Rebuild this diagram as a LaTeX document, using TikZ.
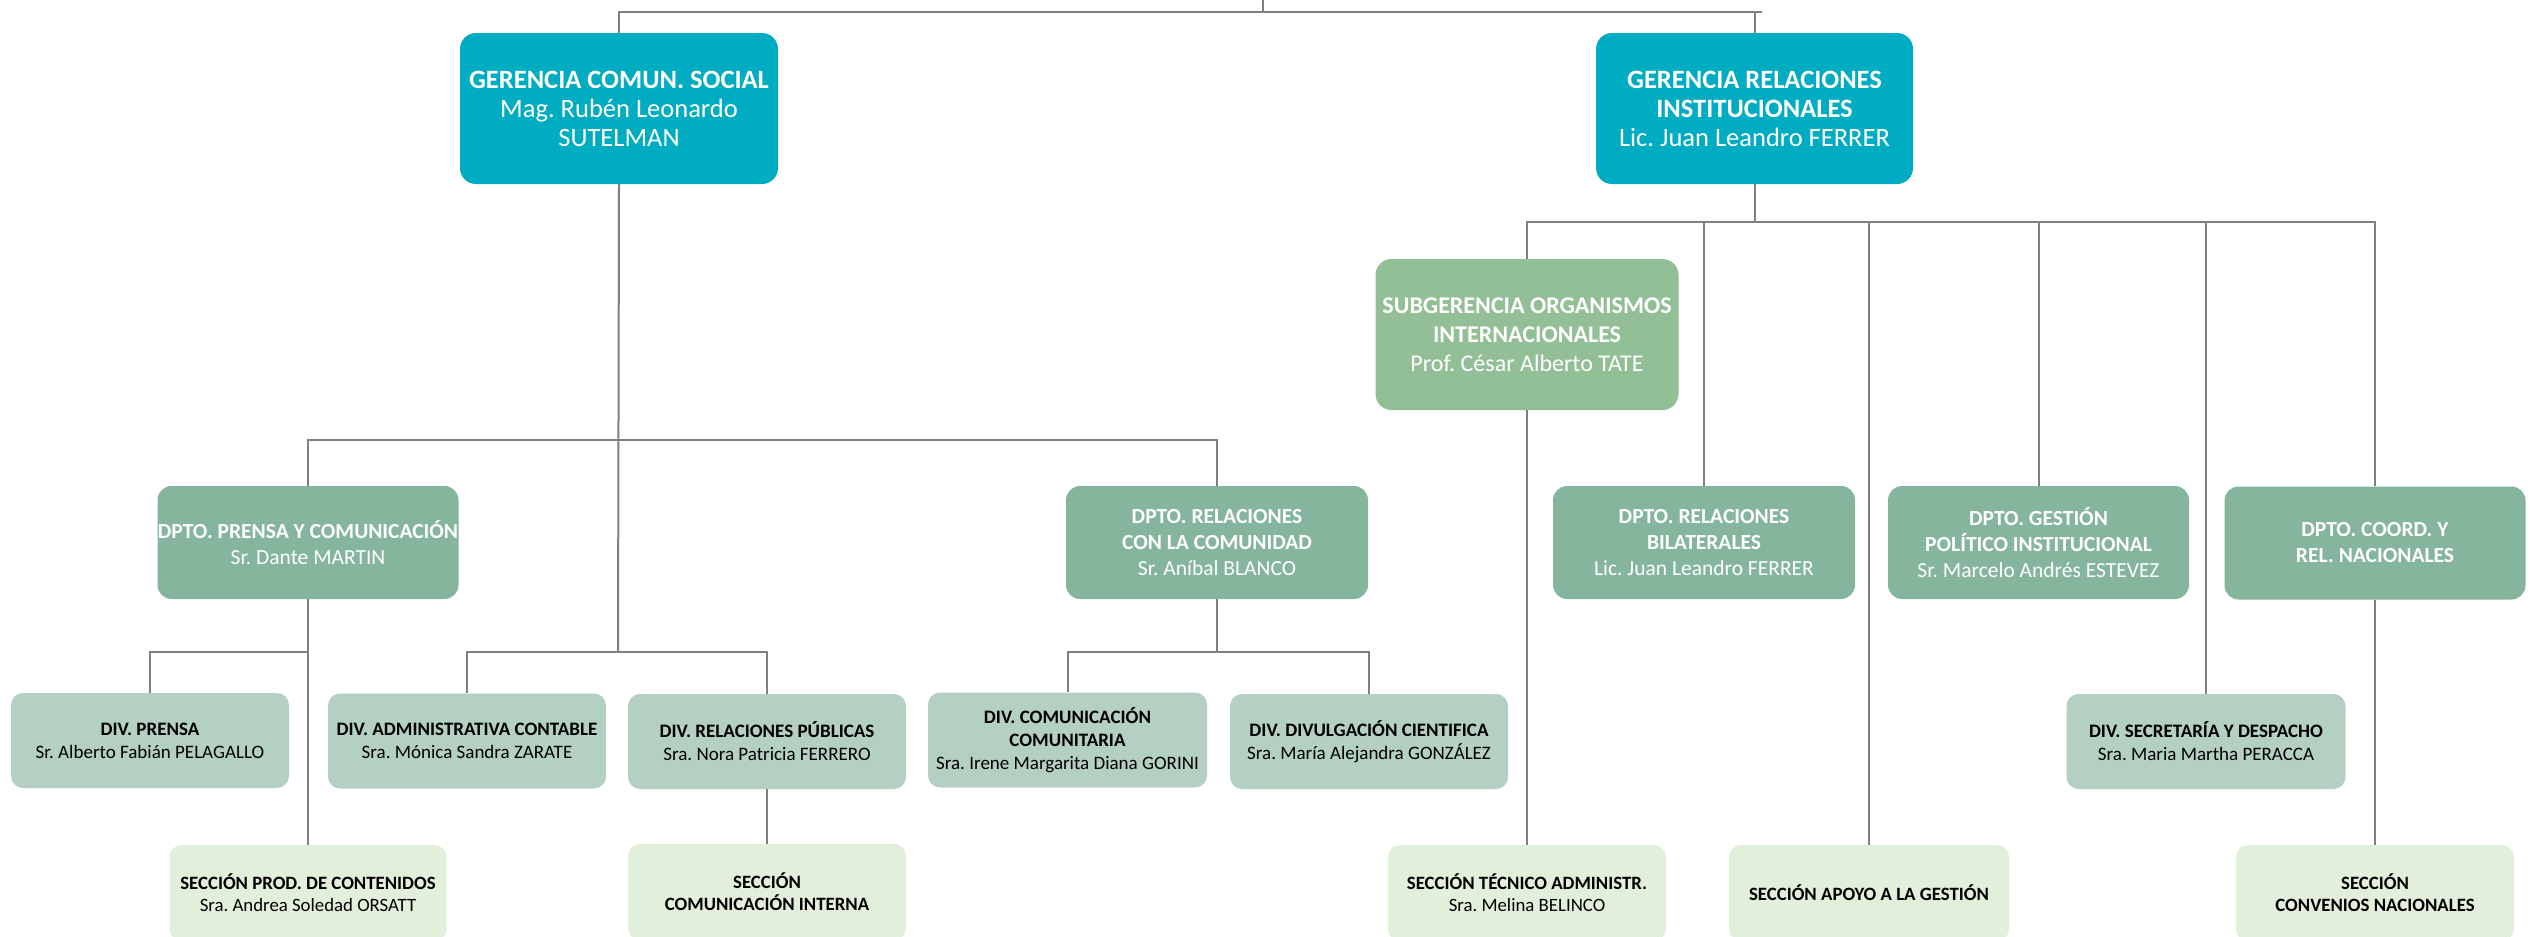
\documentclass[tikz,border=0pt]{standalone}
\usepackage{fontspec}
\setmainfont{Carlito}
\frenchspacing
\definecolor{teal}{RGB}{0,172,193}
\definecolor{subg}{RGB}{147,191,150}
\definecolor{dpto}{RGB}{133,182,157}
\definecolor{divc}{RGB}{179,208,194}
\definecolor{secc}{RGB}{226,239,218}
\definecolor{lin}{RGB}{128,128,128}
\tikzset{
  box/.style={rounded corners=16pt, inner sep=0pt, align=center, draw=none},
  topbox/.style={box, fill=teal, text=white, minimum height=151pt, font=\fontsize{26.5}{29}\selectfont},
  subbox/.style={box, fill=subg, text=white, minimum height=151pt, font=\fontsize{24}{29}\selectfont},
  dptobox/.style={box, rounded corners=14pt, fill=dpto, text=white, minimum height=113pt, font=\fontsize{21.5}{26}\selectfont},
  divbox/.style={box, rounded corners=12pt, fill=divc, text=black, minimum height=95pt, minimum width=278pt, font=\fontsize{19}{23}\selectfont},
  seccbox/.style={box, rounded corners=12pt, fill=secc, text=black, minimum height=96pt, minimum width=278pt, font=\fontsize{18.8}{22}\selectfont},
  conn/.style={draw=lin, line width=2pt}
}
\begin{document}
\begin{tikzpicture}[x=1pt,y=-1pt]
\useasboundingbox (0,0) rectangle (2533,937);
% top level
\node[topbox, minimum width=318pt] (gcs) at (619,108.5) {\textbf{GERENCIA COMUN. SOCIAL}\\Mag. Rubén Leonardo\\SUTELMAN};
\node[topbox, minimum width=317pt] (gri) at (1754.5,108.5) {\textbf{GERENCIA RELACIONES}\\\textbf{INSTITUCIONALES}\\Lic. Juan Leandro FERRER};
\node[subbox, minimum width=303pt] (subger) at (1527,334.5) {\textbf{SUBGERENCIA ORGANISMOS}\\\textbf{INTERNACIONALES}\\Prof. César Alberto TATE};
% departments
\node[dptobox, minimum width=301pt] (prensa) at (308,542.5) {\textbf{DPTO. PRENSA Y COMUNICACIÓN}\\Sr. Dante MARTIN};
\node[dptobox, minimum width=302pt] (relcom) at (1217,542.5) {\textbf{DPTO. RELACIONES}\\\textbf{CON LA COMUNIDAD}\\Sr. Aníbal BLANCO};
\node[dptobox, minimum width=302pt] (bilat) at (1704,542.5) {\textbf{DPTO. RELACIONES}\\\textbf{BILATERALES}\\Lic. Juan Leandro FERRER};
\node[dptobox, minimum width=301pt] (gestion) at (2038.5,542.5) {\textbf{DPTO. GESTIÓN}\\\textbf{POLÍTICO INSTITUCIONAL}\\Sr. Marcelo Andrés ESTEVEZ};
\node[dptobox, minimum width=301pt] (coord) at (2375,543) {\textbf{DPTO. COORD. Y}\\\textbf{REL. NACIONALES}};
% divisions
\node[divbox] (divprensa) at (150,740.5) {\textbf{DIV. PRENSA}\\Sr. Alberto Fabián PELAGALLO};
\node[divbox] (admin) at (467,741) {\textbf{DIV. ADMINISTRATIVA CONTABLE}\\Sra. Mónica Sandra ZARATE};
\node[divbox] (relpub) at (767,741.5) {\textbf{DIV. RELACIONES PÚBLICAS}\\Sra. Nora Patricia FERRERO};
\node[divbox, minimum width=279pt] (divcom) at (1067.5,740) {\textbf{DIV. COMUNICACIÓN}\\\textbf{COMUNITARIA}\\Sra. Irene Margarita Diana GORINI};
\node[divbox] (divulg) at (1369,741.5) {\textbf{DIV. DIVULGACIÓN CIENTIFICA}\\Sra. María Alejandra GONZÁLEZ};
\node[divbox, minimum width=279pt] (secret) at (2206,741.5) {\textbf{DIV. SECRETARÍA Y DESPACHO}\\Sra. Maria Martha PERACCA};
% sections
\node[seccbox, minimum width=277pt] (prod) at (308,893) {\textbf{SECCIÓN PROD. DE CONTENIDOS}\\Sra. Andrea Soledad ORSATT};
\node[seccbox] (comint) at (767,892) {\textbf{SECCIÓN}\\\textbf{COMUNICACIÓN INTERNA}};
\node[seccbox] (tecnico) at (1527,893) {\textbf{SECCIÓN TÉCNICO ADMINISTR.}\\Sra. Melina BELINCO};
\node[seccbox, minimum width=280pt] (apoyo) at (1869,893) {\textbf{SECCIÓN APOYO A LA GESTIÓN}};
\node[seccbox] (conven) at (2375,893) {\textbf{SECCIÓN}\\\textbf{CONVENIOS NACIONALES}};
% bus coordinates
\coordinate (top) at (1263,-2);
\coordinate (busTop) at (1263,12);
\coordinate (busTopR) at (1762,12);
\coordinate (busG) at (618,440);
\coordinate (busG2) at (618,652);
\coordinate (busP) at (308,652);
\coordinate (busC) at (1217,652);
\coordinate (busR) at (1754.5,222);
% connectors
\draw[conn] (top) -- (busTop);
\draw[conn] (gcs.north) -- (gcs.north |- busTop) -- (busTopR);
\draw[conn] (gri.north) -- (gri.north |- busTop);
\draw[conn] (gcs.south) -- (busG2);
\draw[conn] (prensa.north) -- (prensa.north |- busG) -- (relcom.north |- busG) -- (relcom.north);
\draw[conn] (admin.north) -- (admin.north |- busG2) -- (relpub.north |- busG2) -- (relpub.north);
\draw[conn] (prensa.south) -- (prod.north);
\draw[conn] (busP) -- (divprensa.north |- busP) -- (divprensa.north);
\draw[conn] (relcom.south) -- (busC);
\draw[conn] (divcom.north) -- (divcom.north |- busC) -- (divulg.north |- busC) -- (divulg.north);
\draw[conn] (relpub.south) -- (comint.north);
\draw[conn] (gri.south) -- (busR);
\draw[conn] (subger.north) -- (subger.north |- busR) -- (coord.north |- busR) -- (coord.north);
\draw[conn] (bilat.north |- busR) -- (bilat.north);
\draw[conn] (gestion.north |- busR) -- (gestion.north);
\draw[conn] (apoyo.north |- busR) -- (apoyo.north);
\draw[conn] (secret.north |- busR) -- (secret.north);
\draw[conn] (subger.south) -- (tecnico.north);
\draw[conn] (coord.south) -- (conven.north);
\end{tikzpicture}
\end{document}
